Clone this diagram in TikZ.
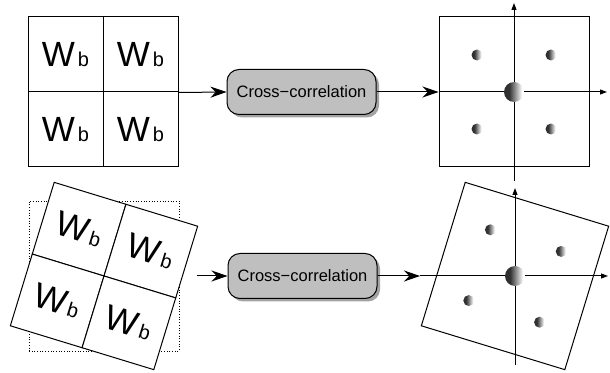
\documentclass[tikz,border=0pt]{standalone}
\usepackage{fontspec}
\setmainfont{Liberation Sans}
\usetikzlibrary{arrows.meta, shadows}
\pgfdeclarehorizontalshading{crescent}{100bp}{color(0bp)=(black!85); color(38bp)=(black!80);
	color(52bp)=(black!45); color(70bp)=(white); color(100bp)=(white)}
\tikzset{
	cell/.style={draw,fill=white,line width=1pt,minimum size=75pt,inner sep=0pt,
		font=\fontsize{35}{35}\selectfont},
	frame/.style={draw,line width=1pt,minimum size=150pt,inner sep=0pt},
	xcorr/.style={draw,line width=1pt,rounded corners=12pt,fill=gray!50,
		minimum width=149pt,minimum height=45pt,font=\fontsize{16.5}{16.5}\selectfont,
		drop shadow={shadow xshift=3pt,shadow yshift=-3pt,fill=black!60,opacity=.6}},
	bigarrow/.style={-{Stealth[length=16pt,width=11pt]},line width=1pt},
	axis/.style={-{Triangle[length=7pt,width=5pt]},line width=1pt},
	blob/.style={shading=crescent}
}
\newcommand{\wb}{W\kern3pt{\fontsize{20}{20}\selectfont b}}

\begin{document}
\begin{tikzpicture}[x=1pt,y=1pt]
	\useasboundingbox (0,0) rectangle (610,372);

	% upper row
	\node[cell] (a11) at (65.5,317.5) {\wb};
	\node[cell] (a12) at (140.5,317.5) {\wb};
	\node[cell] (a21) at (65.5,242.5) {\wb};
	\node[cell] (a22) at (140.5,242.5) {\wb};

	\node[xcorr] (cc1) at (301.5,280) {Cross−correlation};

	\node[frame] (p1) at (514,280) {};
	\coordinate (o1) at (514,280);
	\draw[axis] (p1.west) -- ([xshift=93pt]o1);
	\draw[axis] ([yshift=-89pt]o1) -- ([yshift=89pt]o1);
	\shade[blob] (o1) circle (10);
	\foreach \dx/\dy in {-37/37, 37/37, -37/-37, 37/-37}
		\shade[blob] ([shift={(\dx,\dy)}]o1) circle (5.5);

	\draw[bigarrow] (a12.south east) -- (cc1.west);
	\draw[bigarrow] (cc1.east) -- (p1.west);

	% lower row
	\draw[dotted,line width=.7pt] (29,21) rectangle (179,171);
	\begin{scope}[rotate around={-17:(104,96)}]
		\node[cell,transform shape] (b11) at (66.5,133.5) {\wb};
		\node[cell,transform shape] (b12) at (141.5,133.5) {\wb};
		\node[cell,transform shape] (b21) at (66.5,58.5) {\wb};
		\node[cell,transform shape] (b22) at (141.5,58.5) {\wb};
	\end{scope}

	\node[xcorr] (cc2) at (302.5,96) {Cross−correlation};
	\coordinate (in2) at (197,96);

	\begin{scope}[rotate around={-17:(515,96)}]
		\node[frame,transform shape] (p2) at (515,96) {};
		\coordinate (s1) at (478,133);
		\coordinate (s2) at (552,133);
		\coordinate (s3) at (478,59);
		\coordinate (s4) at (552,59);
	\end{scope}
	\coordinate (o2) at (515,96);
	\draw[axis] ([xshift=-95pt]o2) -- ([xshift=93pt]o2);
	\draw[axis] ([yshift=-89pt]o2) -- ([yshift=88pt]o2);
	\shade[blob] (o2) circle (10);
	\foreach \s in {s1,s2,s3,s4}
		\shade[blob] (\s) circle (5.5);

	\draw[bigarrow] (in2) -- (cc2.west);
	\draw[bigarrow] (cc2.east) -- ([xshift=-95pt]o2);
\end{tikzpicture}
\end{document}
